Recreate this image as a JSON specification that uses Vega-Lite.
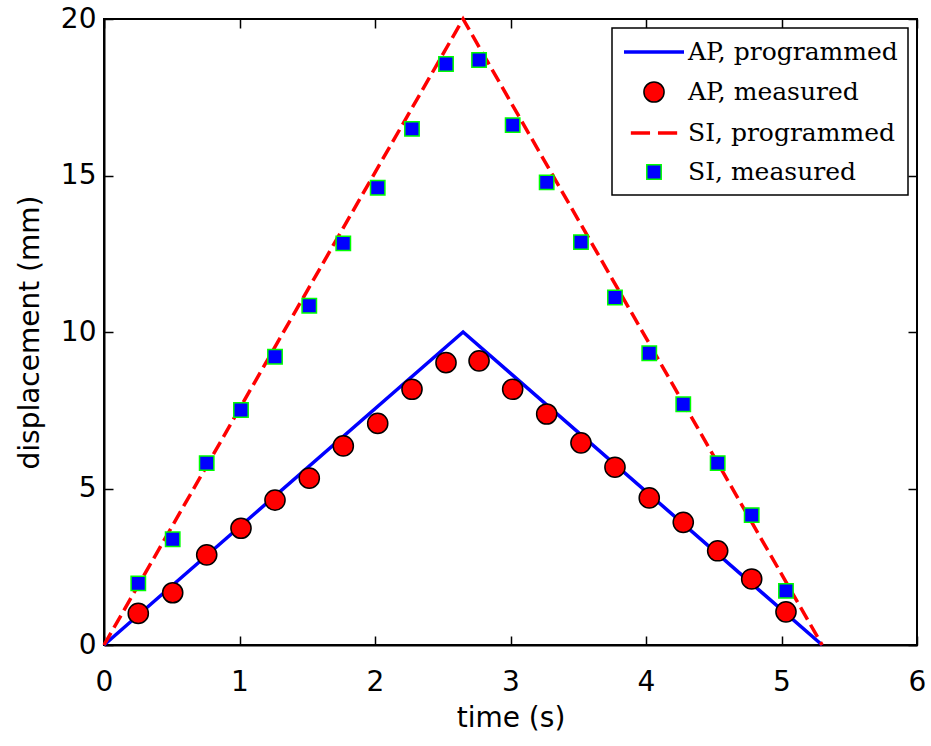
{
  "$schema": "https://vega.github.io/schema/vega-lite/v6.json",
  "width": 813,
  "height": 626,
  "autosize": {"type": "none"},
  "padding": {"left": 104, "top": 19, "right": 14, "bottom": 101},
  "background": "white",
  "config": {
    "view": {"stroke": "black", "strokeWidth": 2},
    "axis": {
      "grid": false,
      "labelFont": "DejaVu Sans",
      "labelFontSize": 28,
      "labelColor": "black",
      "titleFont": "DejaVu Sans",
      "titleFontSize": 28,
      "titleFontWeight": "normal",
      "titleColor": "black",
      "tickColor": "black",
      "tickWidth": 1.5,
      "domainColor": "black",
      "domainWidth": 2,
      "labelFlush": false
    },
    "legend": {
      "orient": "top-right",
      "offset": 9,
      "padding": 10,
      "strokeColor": "black",
      "strokeWidth": 1.5,
      "fillColor": "white",
      "labelFont": "DejaVu Serif",
      "labelFontSize": 25,
      "labelColor": "black",
      "symbolOffset": 18,
      "labelOffset": 20,
      "labelLimit": 400,
      "rowPadding": 13,
      "symbolOpacity": 1,
      "symbolSize": 576
    }
  },
  "data": {
    "values": [
      {"series": "AP, programmed", "time": 0, "disp": 0},
      {"series": "AP, programmed", "time": 2.65, "disp": 10},
      {"series": "AP, programmed", "time": 5.3, "disp": 0},
      {"series": "SI, programmed", "time": 0, "disp": 0},
      {"series": "SI, programmed", "time": 2.65, "disp": 20},
      {"series": "SI, programmed", "time": 5.3, "disp": 0},
      {"series": "AP, measured", "time": 0.253, "disp": 1.01},
      {"series": "AP, measured", "time": 0.507, "disp": 1.67},
      {"series": "AP, measured", "time": 0.758, "disp": 2.88},
      {"series": "AP, measured", "time": 1.011, "disp": 3.73},
      {"series": "AP, measured", "time": 1.262, "disp": 4.63},
      {"series": "AP, measured", "time": 1.515, "disp": 5.33},
      {"series": "AP, measured", "time": 1.766, "disp": 6.36},
      {"series": "AP, measured", "time": 2.02, "disp": 7.08},
      {"series": "AP, measured", "time": 2.273, "disp": 8.17},
      {"series": "AP, measured", "time": 2.524, "disp": 9.02},
      {"series": "AP, measured", "time": 2.768, "disp": 9.08},
      {"series": "AP, measured", "time": 3.016, "disp": 8.17},
      {"series": "AP, measured", "time": 3.267, "disp": 7.38},
      {"series": "AP, measured", "time": 3.52, "disp": 6.46},
      {"series": "AP, measured", "time": 3.771, "disp": 5.68},
      {"series": "AP, measured", "time": 4.024, "disp": 4.7},
      {"series": "AP, measured", "time": 4.275, "disp": 3.92},
      {"series": "AP, measured", "time": 4.529, "disp": 3.01},
      {"series": "AP, measured", "time": 4.78, "disp": 2.11},
      {"series": "AP, measured", "time": 5.033, "disp": 1.06},
      {"series": "SI, measured", "time": 0.253, "disp": 1.97},
      {"series": "SI, measured", "time": 0.507, "disp": 3.38},
      {"series": "SI, measured", "time": 0.758, "disp": 5.81},
      {"series": "SI, measured", "time": 1.011, "disp": 7.51},
      {"series": "SI, measured", "time": 1.262, "disp": 9.21},
      {"series": "SI, measured", "time": 1.515, "disp": 10.84},
      {"series": "SI, measured", "time": 1.766, "disp": 12.83},
      {"series": "SI, measured", "time": 2.02, "disp": 14.61},
      {"series": "SI, measured", "time": 2.273, "disp": 16.49},
      {"series": "SI, measured", "time": 2.524, "disp": 18.56},
      {"series": "SI, measured", "time": 2.768, "disp": 18.69},
      {"series": "SI, measured", "time": 3.016, "disp": 16.61},
      {"series": "SI, measured", "time": 3.267, "disp": 14.78},
      {"series": "SI, measured", "time": 3.52, "disp": 12.87},
      {"series": "SI, measured", "time": 3.771, "disp": 11.1},
      {"series": "SI, measured", "time": 4.024, "disp": 9.32},
      {"series": "SI, measured", "time": 4.275, "disp": 7.69},
      {"series": "SI, measured", "time": 4.529, "disp": 5.81},
      {"series": "SI, measured", "time": 4.78, "disp": 4.15},
      {"series": "SI, measured", "time": 5.033, "disp": 1.73}
    ]
  },
  "layer": [
    {
      "encoding": {
        "x": {
          "field": "time", "type": "quantitative",
          "scale": {"domain": [0, 6], "nice": false, "zero": false},
          "axis": {"title": "time (s)", "values": [0, 1, 2, 3, 4, 5, 6], "tickSize": -9, "labelPadding": 32, "titlePadding": 8}
        },
        "y": {
          "field": "disp", "type": "quantitative",
          "scale": {"domain": [0, 20], "nice": false},
          "axis": {"title": "displacement (mm)", "values": [0, 5, 10, 15, 20], "tickSize": -9, "labelPadding": 17, "titlePadding": 16}
        },
        "stroke": {
          "field": "series", "type": "nominal", "title": null,
          "scale": {"domain": ["AP, programmed", "AP, measured", "SI, programmed", "SI, measured"], "range": ["#0000ff", "#000000", "#ff0000", "#00ff00"]}
        },
        "strokeWidth": {
          "field": "series", "type": "nominal", "title": null,
          "scale": {"type": "ordinal", "domain": ["AP, programmed", "AP, measured", "SI, programmed", "SI, measured"], "range": [3.5, 1.5, 3.5, 1.5]}
        }
      },
      "layer": [
        {
          "transform": [{"filter": "datum.series === 'AP, programmed'"}],
          "mark": {"type": "line"}
        },
        {
          "transform": [{"filter": "datum.series === 'SI, programmed'"}],
          "mark": {"type": "line", "strokeDash": [14, 6]}
        },
        {
          "transform": [{"filter": "datum.series === 'AP, measured' || datum.series === 'SI, measured'"}],
          "mark": {"type": "point", "filled": true, "opacity": 1, "size": 576},
          "encoding": {
            "fill": {
              "field": "series", "type": "nominal", "title": null,
              "scale": {"domain": ["AP, programmed", "AP, measured", "SI, programmed", "SI, measured"], "range": ["transparent", "#ff0000", "transparent", "#0000ff"]}
            },
            "shape": {
              "field": "series", "type": "nominal", "title": null,
              "scale": {"domain": ["AP, programmed", "AP, measured", "SI, programmed", "SI, measured"], "range": ["M-2.5,0H2.5", "M0.84,0A0.84,0.84,0,1,1,-0.84,0A0.84,0.84,0,1,1,0.84,0Z", "M-1.93,0H-0.33M0.33,0H1.93", "M-0.6,-0.6H0.6V0.6H-0.6Z"]}
            }
          }
        }
      ]
    },
    {
      "mark": {"type": "point", "opacity": 0},
      "encoding": {
        "x": {
          "field": "time", "type": "quantitative",
          "scale": {"domain": [0, 6], "nice": false, "zero": false},
          "axis": {"orient": "top", "title": null, "labels": false, "domain": false, "values": [0, 1, 2, 3, 4, 5, 6], "tickSize": -9}
        },
        "y": {
          "field": "disp", "type": "quantitative",
          "scale": {"domain": [0, 20], "nice": false},
          "axis": {"orient": "right", "title": null, "labels": false, "domain": false, "values": [0, 5, 10, 15, 20], "tickSize": -9}
        }
      }
    }
  ],
  "resolve": {"axis": {"x": "independent", "y": "independent"}}
}
